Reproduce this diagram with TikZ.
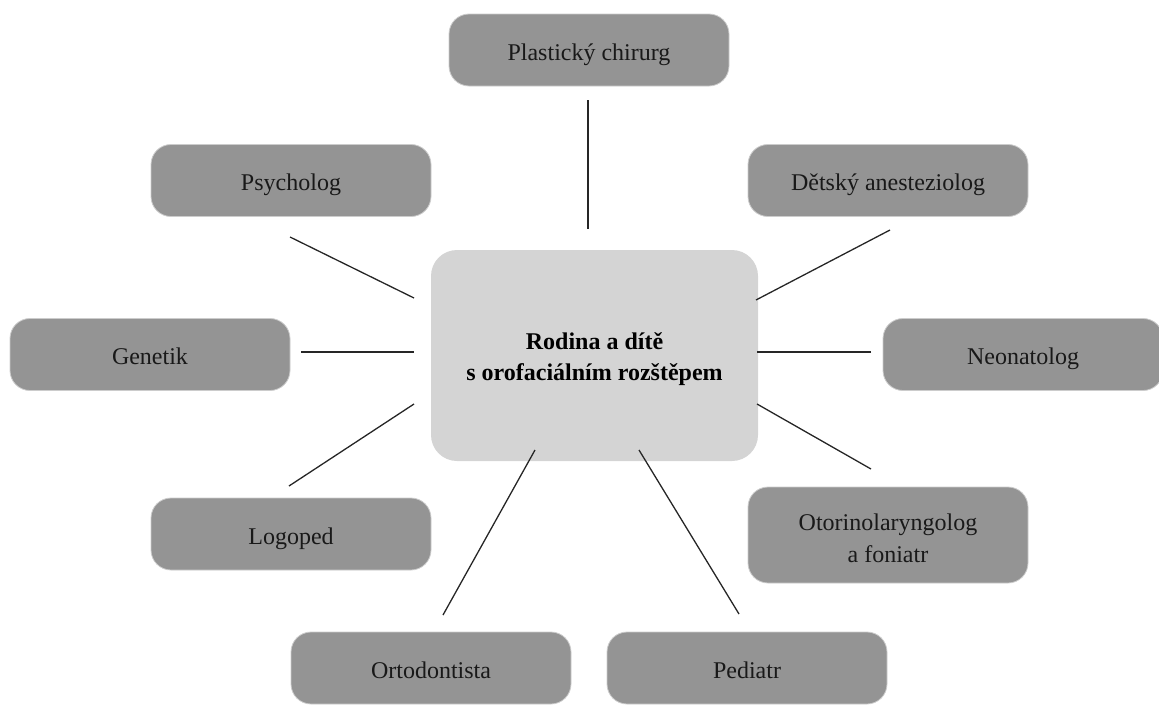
\documentclass[tikz,border=0pt]{standalone}
\usepackage{fontspec}
\setmainfont{Liberation Serif}
\begin{document}
\begin{tikzpicture}[x=1pt,y=-1pt,
  role/.style={draw=black!20,line width=0.8pt,fill=black!42,rounded corners=20pt,
    minimum width=280pt,minimum height=72pt,align=center,font=\fontsize{24}{32}\selectfont,text=black!90,
    text height=20pt,text depth=0pt},
  hub/.style={fill=black!17,rounded corners=26pt,minimum width=327pt,minimum height=211pt,
    align=center,font=\fontsize{24}{31}\selectfont\bfseries,text height=49pt,text depth=0pt},
  link/.style={draw=black!85,line width=1.3pt}]
\useasboundingbox (0,0) rectangle (1159,704);
\node[hub] (c) at (594.5,355.5) {Rodina a dítě\\s orofaciálním rozštěpem};
\node[role] (pl) at (589,50) {Plastický chirurg};
\node[role] (ps) at (291,180.5) {Psycholog};
\node[role] (an) at (888,180.5) {Dětský anesteziolog};
\node[role] (ge) at (150,354.5) {Genetik};
\node[role] (ne) at (1023,354.5) {Neonatolog};
\node[role] (lo) at (291,534) {Logoped};
\node[role,minimum height=96pt,text height=54pt] (ot) at (888,535) {Otorinolaryngolog\\a foniatr};
\node[role] (or) at (431,668) {Ortodontista};
\node[role] (pe) at (747,668) {Pediatr};
\coordinate (pl1) at (588,100); \coordinate (pl2) at (588,229);
\coordinate (ps1) at (290,237); \coordinate (ps2) at (414,298);
\coordinate (an1) at (890,230); \coordinate (an2) at (756,300);
\coordinate (ge1) at (301,352); \coordinate (ge2) at (414,352);
\coordinate (ne1) at (871,352); \coordinate (ne2) at (757,352);
\coordinate (lo1) at (289,486); \coordinate (lo2) at (414,404);
\coordinate (ot1) at (871,469); \coordinate (ot2) at (757,404);
\coordinate (or1) at (443,615); \coordinate (or2) at (535,450);
\coordinate (pe1) at (739,614); \coordinate (pe2) at (639,450);
\foreach \n in {pl,ps,an,ge,ne,lo,ot,or,pe} \draw[link] (\n1) -- (\n2);
\end{tikzpicture}
\end{document}
